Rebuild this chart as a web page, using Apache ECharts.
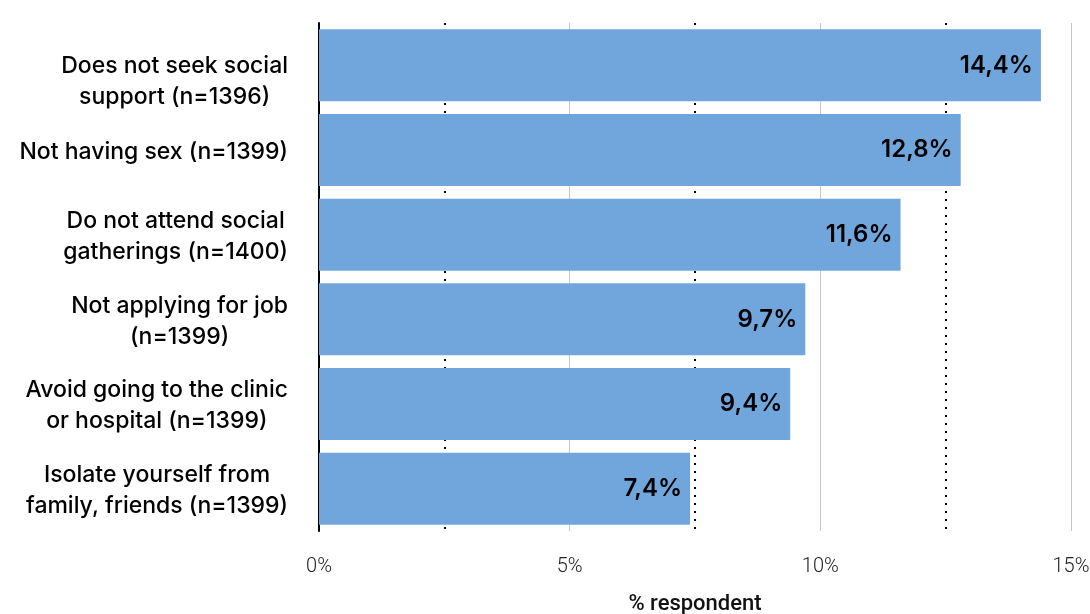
<!DOCTYPE html>
<html>
<head>
<meta charset="utf-8">
<script src="https://cdn.jsdelivr.net/npm/echarts@6/dist/echarts.min.js"></script>
<style>
  html, body { margin: 0; padding: 0; background: #fff; }
  #chart { width: 1090px; height: 614px; }
</style>
</head>
<body>
<div id="chart"></div>
<script>
// Reasons / behaviours, listed top to bottom
const categories = [
  'Does not seek social\nsupport (n=1396)',
  'Not having sex (n=1399)',
  'Do not attend social\ngatherings (n=1400)',
  'Not applying for job\n(n=1399)',
  'Avoid going to the clinic\nor hospital (n=1399)',
  'Isolate yourself from\nfamily, friends (n=1399)'
];
// Share of respondents, in percent
const values = [14.4, 12.8, 11.6, 9.7, 9.4, 7.4];
const axisMax = 15;
const axisStep = 5;
const axisTitle = '% respondent';

const chart = echarts.init(document.getElementById('chart'), null, { renderer: 'canvas' });

// the first label block sits a little lower than its bar
const categoryData = categories.map((c, i) => ({
  value: c,
  textStyle: { padding: i === 0 ? [32, 0, 0, 0] : [4, 0, 0, 0] }
}));

// category axis runs bottom-up, so reverse it to keep the first item on top
chart.setOption({
  animation: false,
  grid: { left: 319, right: 19, top: 23, bottom: 83, containLabel: false, outerBoundsMode: 'none' },
  xAxis: {
    type: 'value',
    min: 0,
    max: axisMax,
    interval: axisStep,
    name: axisTitle,
    nameLocation: 'middle',
    nameGap: 62,
    nameTextStyle: { fontFamily: 'Roboto', fontWeight: 500, fontSize: 22, color: '#111' },
    axisLine: { show: false },
    axisTick: { show: false },
    axisLabel: {
      formatter: v => v + '%',
      fontFamily: 'Roboto', fontWeight: 300, fontSize: 20, color: '#222', margin: 26
    },
    splitLine: { show: true, lineStyle: { color: '#c8c8c8', width: 1 } },
    minorTick: { show: false, splitNumber: 2 },
    minorSplitLine: { show: true, lineStyle: { color: '#000', width: 2, type: [2, 6] } }
  },
  yAxis: {
    type: 'category',
    data: categoryData,
    inverse: true,
    axisLine: { show: true, lineStyle: { color: '#000', width: 2 } },
    axisTick: { show: false },
    splitLine: { show: false },
    axisLabel: {
      margin: 31,
      align: 'right',
      formatter: v => v.split('\n').map(s => '{c|' + s + '}').join('\n'),
      rich: {
        c: { align: 'center', fontFamily: 'Inter', fontWeight: 500, fontSize: 23, lineHeight: 31, color: '#000' }
      }
    }
  },
  series: [{
    type: 'bar',
    data: values,
    barWidth: 72,
    itemStyle: { color: '#70a6dc' },
    label: {
      show: true,
      position: 'insideRight',
      distance: 8,
      formatter: p => p.value.toFixed(1).replace('.', ',') + '%',
      fontFamily: 'Inter', fontWeight: 600, fontSize: 24, color: '#000'
    }
  }]
});
</script>
</body>
</html>
